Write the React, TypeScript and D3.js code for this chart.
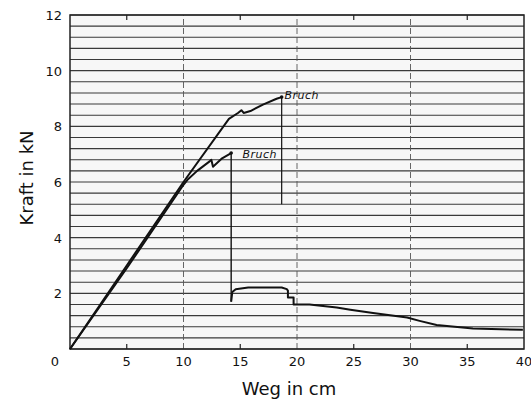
import React from "react";
import * as d3 from "d3";

const xTicks = [5, 10, 15, 20, 25, 30, 35, 40];
const yTicks = [0, 2, 4, 6, 8, 10, 12];
const vGrid = [10, 20, 30];
const minorTop = [5, 15, 25, 35];

// Upper curve (Bruch at ~9 kN)
const upperX = [0, 5, 10, 14.0, 14.8, 15.1, 15.3, 15.9, 17.0, 18.2, 18.65];
const upperY = [0, 3.0, 6.0, 8.27, 8.48, 8.58, 8.48, 8.55, 8.78, 8.99, 9.05];
const upperDropX = [18.65, 18.65];
const upperDropY = [9.05, 5.2];

// Lower curve (Bruch at ~7 kN) incl. post-failure branch
const lowerX = [0, 5, 10, 10.4, 11.2, 12.3, 12.45, 12.6, 13.4, 14.2];
const lowerY = [0, 2.9, 5.9, 6.1, 6.4, 6.74, 6.8, 6.55, 6.85, 7.04];
const lowerDropX = [14.2, 14.2];
const lowerDropY = [7.04, 1.7];
const postX = [14.2, 14.3, 14.6, 15.7, 18.65, 19.1, 19.2, 19.2, 19.7, 19.7, 21.1, 23.5, 24.7, 26.7, 29.7, 30.8, 32.3, 35.5, 39.9];
const postY = [1.7, 2.05, 2.15, 2.21, 2.21, 2.15, 2.1, 1.85, 1.85, 1.6, 1.6, 1.49, 1.41, 1.29, 1.13, 1.01, 0.86, 0.74, 0.69];

const labels = [
  { text: "Bruch", x: 18.9, y: 9.0 },
  { text: "Bruch", x: 15.2, y: 6.85 },
];

export default function App() {
  const W = 531, H = 400;
  const x = d3.scaleLinear().domain([0, 40]).range([70, 524]);
  const y = d3.scaleLinear().domain([0, 12]).range([349, 15]);
  const line = d3.line<[number, number]>().x(d => x(d[0])).y(d => y(d[1]));
  const zip = (a: number[], b: number[]) => a.map((v, i) => [v, b[i]] as [number, number]);
  const hGrid = d3.range(0, 12.01, 0.4);
  const font = "'DejaVu Sans', sans-serif";

  return (
    <svg width={W} height={H} style={{ position: "absolute", left: 0, top: 0, background: "#fff" }}>
      <rect x={x(0)} y={y(12)} width={x(40) - x(0)} height={y(0) - y(12)} fill="#f7f7f7" />
      {hGrid.map((v, i) => (
        <line key={"h" + i} x1={x(0)} x2={x(40)} y1={y(v)} y2={y(v)} stroke="#3a3a3a" strokeWidth={1.1} />
      ))}
      {vGrid.map(v => (
        <line key={"v" + v} x1={x(v)} x2={x(v)} y1={y(0)} y2={y(12)} stroke="#555" strokeWidth={0.9} strokeDasharray="6,3" />
      ))}
      {minorTop.map(v => (
        <g key={"m" + v}>
          <line x1={x(v)} x2={x(v)} y1={y(12)} y2={y(12) + 5} stroke="#222" strokeWidth={1.2} />
          <line x1={x(v)} x2={x(v)} y1={y(0)} y2={y(0) - 5} stroke="#222" strokeWidth={1.2} />
        </g>
      ))}
      <rect x={x(0)} y={y(12)} width={x(40) - x(0)} height={y(0) - y(12)} fill="none" stroke="#222" strokeWidth={1.5} />

      <path d={line(zip(upperX, upperY)) || ""} fill="none" stroke="#111" strokeWidth={2} strokeLinejoin="round" />
      <path d={line(zip(upperDropX, upperDropY)) || ""} fill="none" stroke="#111" strokeWidth={1.2} />
      <path d={line(zip(lowerX, lowerY)) || ""} fill="none" stroke="#111" strokeWidth={2} strokeLinejoin="round" />
      <path d={line(zip(lowerDropX, lowerDropY)) || ""} fill="none" stroke="#111" strokeWidth={1.4} />
      <path d={line(zip(postX, postY)) || ""} fill="none" stroke="#111" strokeWidth={2} strokeLinejoin="round" />
      <circle cx={x(upperX[upperX.length - 1])} cy={y(upperY[upperY.length - 1])} r={1.8} fill="#111" />
      <circle cx={x(lowerX[lowerX.length - 1])} cy={y(lowerY[lowerY.length - 1])} r={1.8} fill="#111" />

      {labels.map((l, i) => (
        <text key={"l" + i} x={x(l.x)} y={y(l.y)} fontFamily={font} fontStyle="italic" fontSize={11} fill="#111" letterSpacing={0.5}>{l.text}</text>
      ))}

      {yTicks.map(v => (
        <text key={"yt" + v} x={v === 0 ? 59 : 62} y={v === 0 ? 366 : y(v) + 5} textAnchor="end" fontFamily={font} fontSize={13} fill="#111">{v}</text>
      ))}
      {xTicks.map(v => (
        <text key={"xt" + v} x={x(v)} y={366} textAnchor="middle" fontFamily={font} fontSize={13} fill="#111">{v}</text>
      ))}
      <text x={289} y={395} textAnchor="middle" fontFamily={font} fontSize={18} fill="#111">Weg in cm</text>
      <text transform={`translate(33,178) rotate(-90)`} textAnchor="middle" fontFamily={font} fontSize={18} fill="#111">Kraft in kN</text>
    </svg>
  );
}
